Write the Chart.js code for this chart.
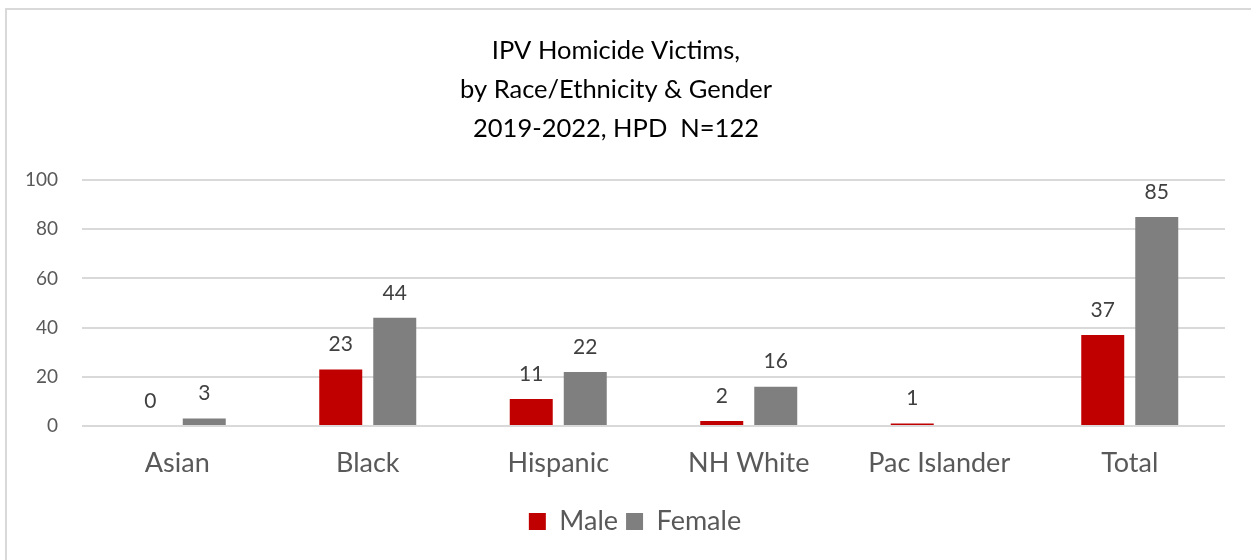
<!DOCTYPE html>
<html>
<head>
<meta charset="utf-8">
<script src="https://cdn.jsdelivr.net/npm/chart.js@4"></script>
<style>
  html, body { margin: 0; padding: 0; background: #fff; overflow: hidden; }
  #wrap { position: relative; width: 1251px; height: 560px; }
  #frame { position: absolute; left: 5px; top: 8px; width: 1300px; height: 600px; border: 2px solid #D9D9D9; box-sizing: border-box; pointer-events: none; }
  canvas { position: absolute; left: 0; top: 0; }
</style>
</head>
<body>
<div id="wrap">
  <canvas id="c" width="1251" height="560"></canvas>
  <div id="frame"></div>
</div>
<script>
const categories = ["Asian", "Black", "Hispanic", "NH White", "Pac Islander", "Total"];
const maleValues = [0, 23, 11, 2, 1, 37];
const femaleValues = [3, 44, 22, 16, null, 85];
const yTicks = [0, 20, 40, 60, 80, 100];
const titleLines = ["IPV Homicide Victims,", "by Race/Ethnicity & Gender", "2019-2022, HPD  N=122"];

const FONT = "Lato, 'Open Sans', sans-serif";

const valueLabels = {
  id: 'valueLabels',
  afterDatasetsDraw(chart) {
    const ctx = chart.ctx;
    ctx.save();
    ctx.font = "21px " + FONT;
    ctx.fillStyle = "#404040";
    ctx.textAlign = "center";
    ctx.textBaseline = "middle";
    chart.data.datasets.forEach((ds, di) => {
      const meta = chart.getDatasetMeta(di);
      meta.data.forEach((el, i) => {
        const v = ds.data[i];
        if (v === null || v === undefined) return;
        ctx.fillText(String(v), el.x, el.y - 25);
      });
    });
    ctx.restore();
  }
};

const legendShift = {
  id: 'legendShift',
  afterLayout(chart) {
    if (chart.legend) {
      chart.legend.left += 19;
      chart.legend.right += 19;
    }
  }
};

new Chart(document.getElementById('c'), {
  type: 'bar',
  data: {
    labels: categories,
    datasets: [
      { label: "Male", data: maleValues, backgroundColor: "#C00000", borderWidth: 0 },
      { label: "Female", data: femaleValues, backgroundColor: "#7F7F7F", borderWidth: 0 }
    ]
  },
  options: {
    responsive: false,
    animation: false,
    devicePixelRatio: 1,
    categoryPercentage: 0.567,
    barPercentage: 0.796,
    layout: { padding: { left: 7, right: 26, top: 0, bottom: 15 } },
    plugins: {
      title: {
        display: true,
        text: titleLines,
        color: "#000000",
        font: { family: FONT, size: 25.5, weight: 'normal', lineHeight: 1.53 },
        padding: { top: 31, bottom: 32 }
      },
      legend: {
        position: 'bottom',
        labels: {
          color: "#595959",
          font: { family: FONT, size: 27 },
          boxWidth: 17,
          boxHeight: 17,
          padding: 8
        }
      },
      tooltip: { enabled: false }
    },
    scales: {
      x: {
        grid: { display: false, drawTicks: false },
        border: { display: false },
        ticks: { color: "#595959", font: { family: FONT, size: 27 }, padding: 21 },
        afterFit(s) { s.height = 74; }
      },
      y: {
        min: 0, max: 100,
        afterBuildTicks(s) { s.ticks = yTicks.map(v => ({ value: v })); },
        grid: { color: "#D9D9D9", lineWidth: 2, drawTicks: false },
        border: { display: false },
        ticks: { color: "#595959", font: { family: FONT, size: 19 }, padding: 24 },
        afterFit(s) { s.width = 75; }
      }
    }
  },
  plugins: [valueLabels, legendShift]
});
</script>
</body>
</html>
